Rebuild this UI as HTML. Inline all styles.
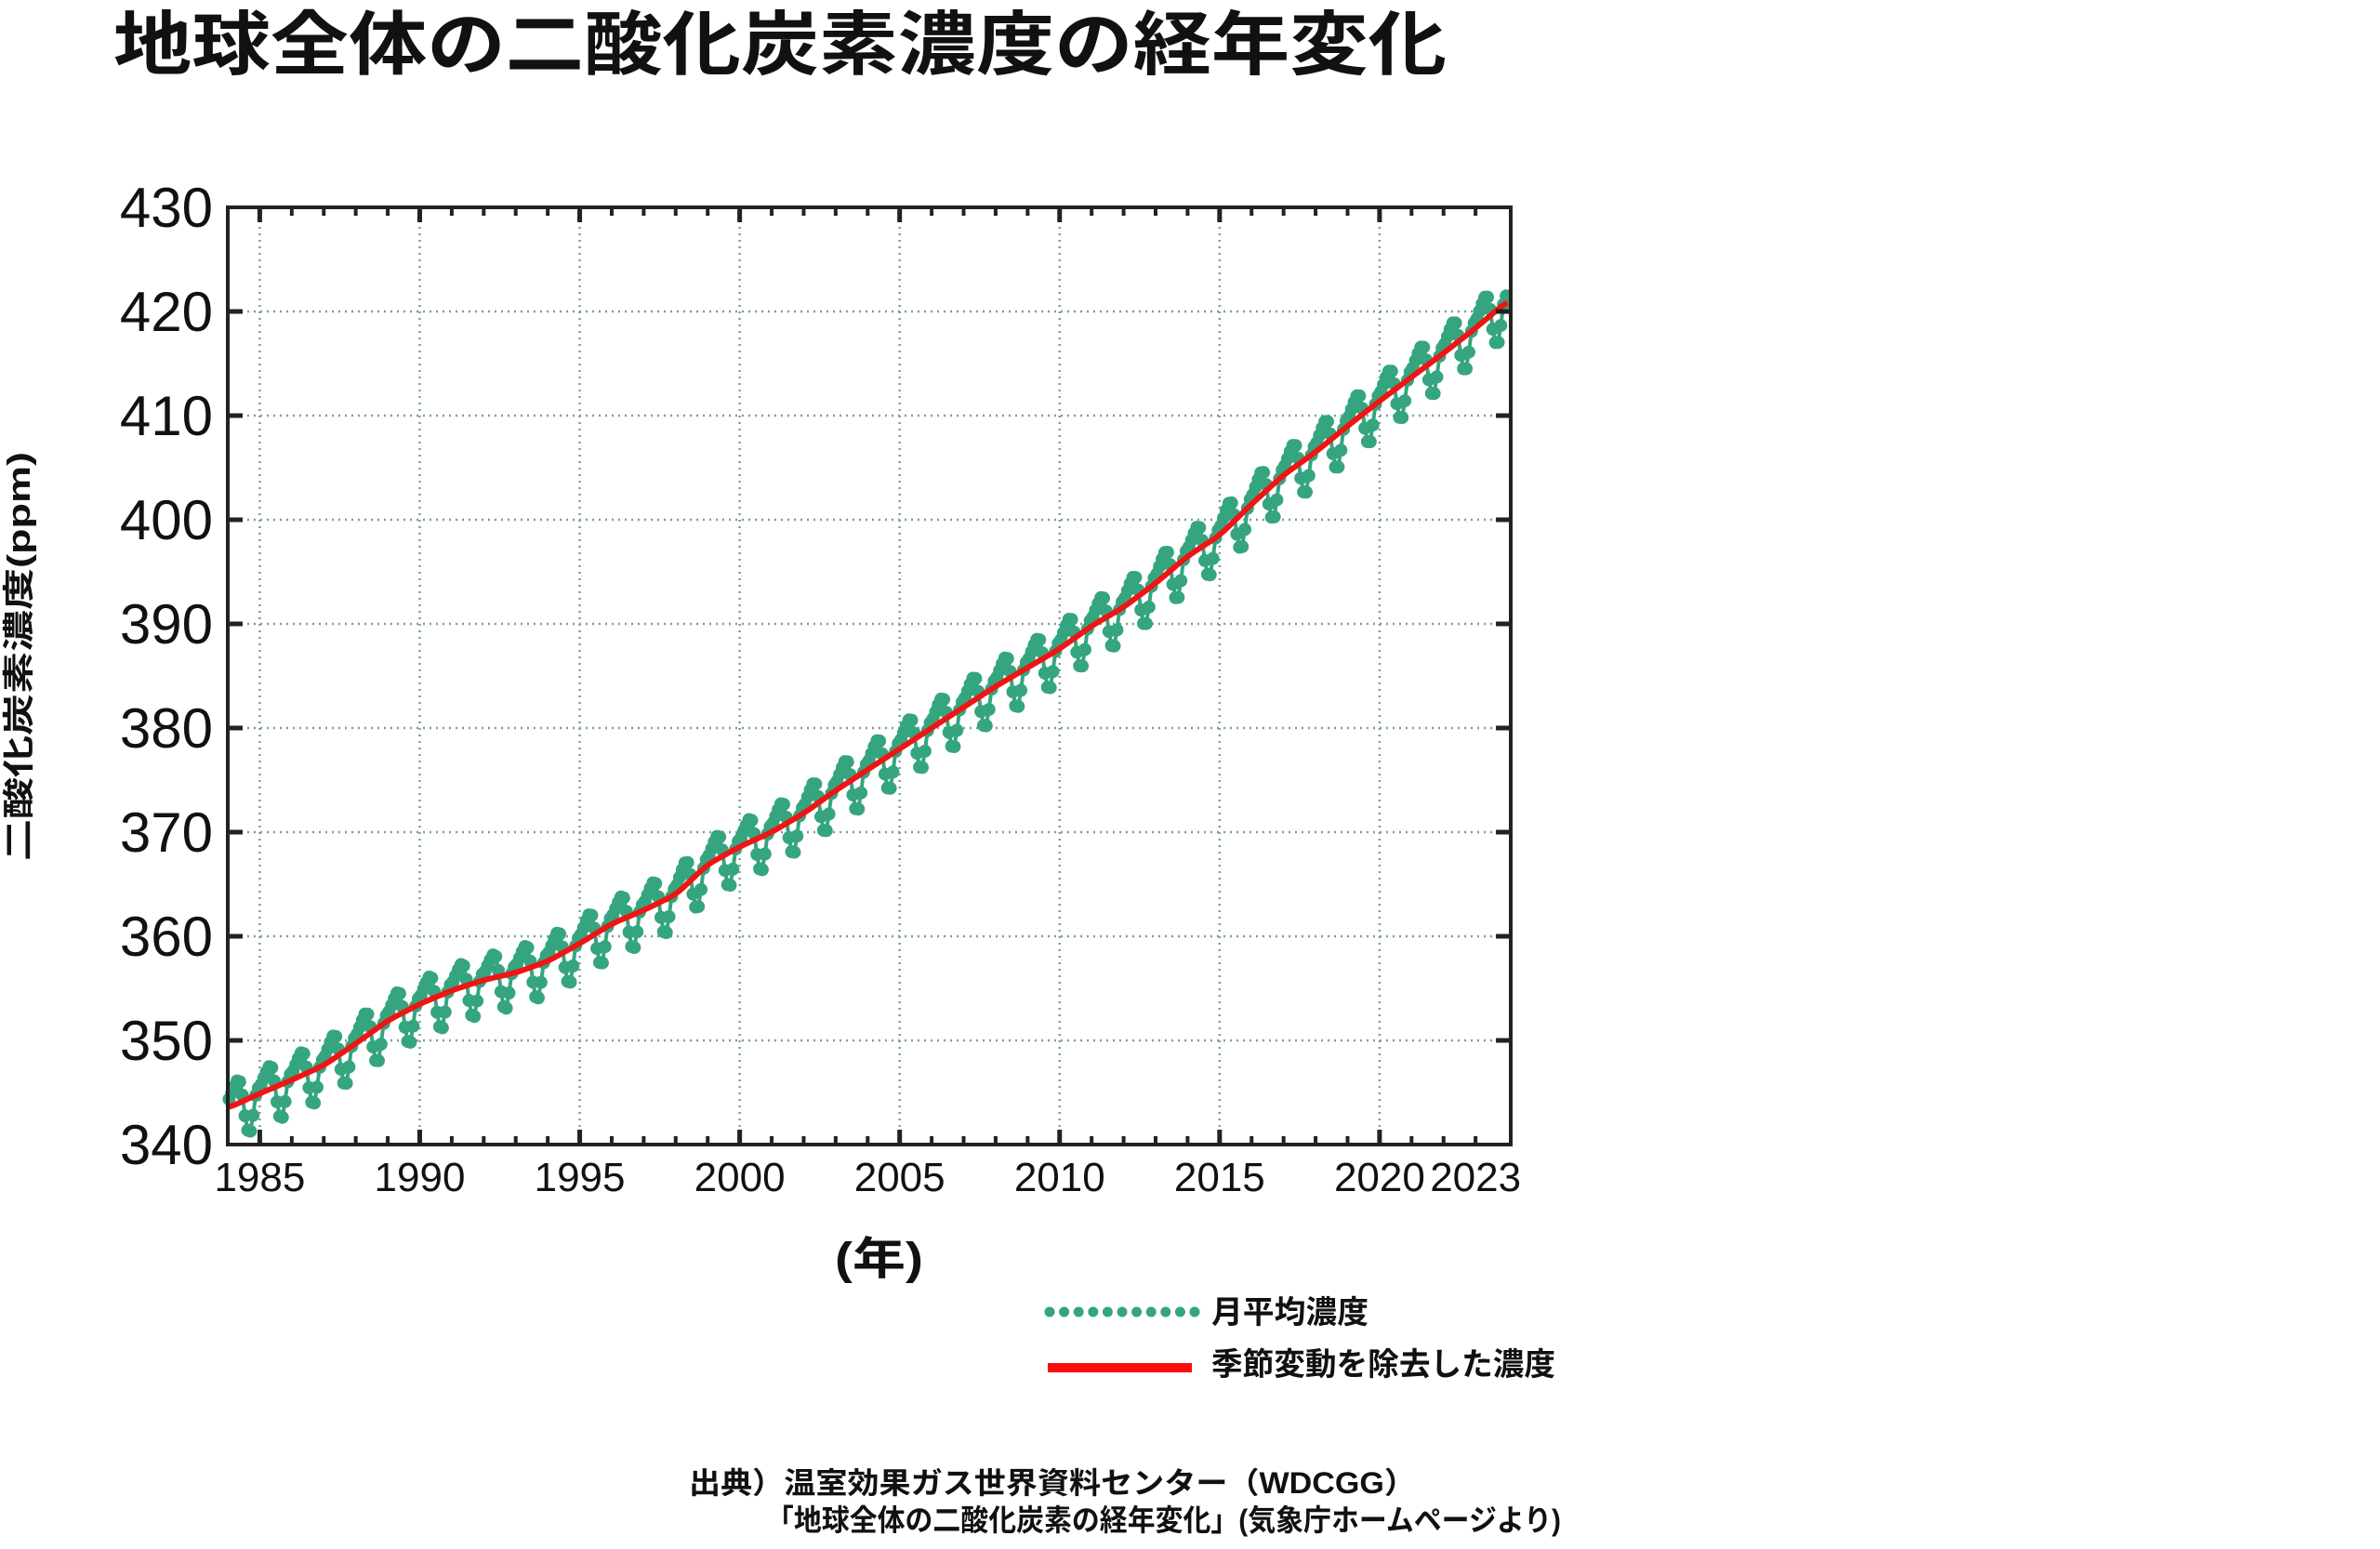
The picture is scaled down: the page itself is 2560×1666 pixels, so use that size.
<!DOCTYPE html>
<html lang="ja"><head><meta charset="utf-8"><title>地球全体の二酸化炭素濃度の経年変化</title>
<style>html,body{margin:0;padding:0;background:#fff;}svg{display:block;}
text{font-family:"Liberation Sans","Noto Sans CJK JP",sans-serif;fill:#111;}</style></head>
<body>
<svg id="chart" width="2560" height="1666" viewBox="0 0 2560 1666" xmlns="http://www.w3.org/2000/svg">
<text x="122" y="74" font-size="75" font-weight="bold" textLength="1434" lengthAdjust="spacingAndGlyphs">地球全体の二酸化炭素濃度の経年変化</text>
<text transform="translate(32,706) rotate(-90)" text-anchor="middle" font-size="34" font-weight="bold" textLength="440" lengthAdjust="spacingAndGlyphs">二酸化炭素濃度(ppm)</text>
<g id="grid"></g>
<g id="series"></g>
<g id="axes"></g>
<text x="898" y="1370" font-size="48" font-weight="bold" textLength="95" lengthAdjust="spacingAndGlyphs">(年)</text>
<g>
<g id="legdots"></g>
<text x="1303" y="1423" font-size="34" font-weight="bold" textLength="169" lengthAdjust="spacingAndGlyphs">月平均濃度</text>
<rect x="1127" y="1466" width="155" height="10" fill="#ff0a0a"/>
<text x="1303" y="1479" font-size="34" font-weight="bold" textLength="370" lengthAdjust="spacingAndGlyphs">季節変動を除去した濃度</text>
</g>
<text x="741" y="1606" font-size="32" font-weight="bold" textLength="782" lengthAdjust="spacingAndGlyphs">出典）温室効果ガス世界資料センター（WDCGG）</text>
<text x="824" y="1646" font-size="32" font-weight="bold" textLength="855" lengthAdjust="spacingAndGlyphs">「地球全体の二酸化炭素の経年変化」(気象庁ホームページより)</text>
</svg>
<script>
const trendYears = [1984,1985,1986,1987,1988,1989,1990,1991,1992,1993,1994,1995,1996,1997,1998,1999,2000,2001,2002,2003,2004,2005,2006,2007,2008,2009,2010,2011,2012,2013,2014,2015,2016,2017,2018,2019,2020,2021,2022,2023,2024];
const trendValues = [343.5,344.9,346.2,347.6,349.7,351.9,353.5,354.8,355.8,356.5,357.6,359.3,361.2,362.5,364.0,366.9,368.6,370.0,371.8,374.0,376.0,378.0,380.0,382.0,384.0,385.8,387.6,389.8,391.6,393.9,396.5,398.5,401.5,404.3,406.5,409.0,411.4,413.7,416.0,418.4,421.0];
const seasonalAnomaly = [0.8,1.3,1.8,2.2,2.0,0.6,-1.5,-3.0,-3.2,-1.8,0.0,0.6];
const yTicks = [340,350,360,370,380,390,400,410,420,430];
const xTickLabels = [1985,1990,1995,2000,2005,2010,2015,2020,2023];
const xGridYears = [1985,1990,1995,2000,2005,2010,2015,2020];

const NS='http://www.w3.org/2000/svg';
const L=245,R=1625,T=223,B=1231;
const X0=1984.0,X1=2024.1,Y0=340,Y1=430;
function xs(v){return L+(v-X0)/(X1-X0)*(R-L);}
function ys(v){return B-(v-Y0)/(Y1-Y0)*(B-T);}
function mk(tag,attrs,parent){const e=document.createElementNS(NS,tag);for(const k in attrs)e.setAttribute(k,attrs[k]);parent.appendChild(e);return e;}
function trendAt(t){
  for(let i=0;i<trendYears.length-1;i++){
    if(t<=trendYears[i+1]){const f=(t-trendYears[i])/(trendYears[i+1]-trendYears[i]);return trendValues[i]+f*(trendValues[i+1]-trendValues[i]);}
  }
  return trendValues[trendValues.length-1];
}
const grid=document.getElementById('grid'),axes=document.getElementById('axes'),series=document.getElementById('series');
// grid
yTicks.forEach(v=>{if(v===Y0||v===Y1)return;
  const g=mk('line',{x1:L,x2:R,y1:ys(v),y2:ys(v),stroke:'#7f9da3','stroke-width':2.5,'stroke-dasharray':'2 5'},grid);
  
  
});
xGridYears.forEach(v=>{
  const g=mk('line',{x1:xs(v),x2:xs(v),y1:T,y2:B,stroke:'#7f9da3','stroke-width':2.5,'stroke-dasharray':'2 5'},grid);
  
  
});
// monthly series
const pts=[];
for(let y=1984;y<=2023;y++){for(let m=0;m<12;m++){const t=y+m/12+0.04;pts.push([xs(t),ys(trendAt(t)+seasonalAnomaly[m])]);}}
const ml=mk('polyline',{points:pts.map(p=>p[0].toFixed(1)+','+p[1].toFixed(1)).join(' '),fill:'none',stroke:'#35a57f','stroke-width':4},series);


pts.forEach(p=>{
  const c=mk('circle',{cx:p[0].toFixed(1),cy:p[1].toFixed(1),r:7,fill:'#35a57f'},series);
  
  
});
// trend line
const tp=[];
for(let t=1984;t<=2024.001;t+=1/24){tp.push([xs(t),ys(trendAt(t))]);}
// smooth via moving average
const sm=tp.map((p,i)=>{let s=0,n=0;for(let k=-6;k<=6;k++){const q=tp[Math.min(tp.length-1,Math.max(0,i+k))];s+=q[1];n++;}return [p[0],s/n];});
const tl=mk('polyline',{points:sm.map(p=>p[0].toFixed(1)+','+p[1].toFixed(1)).join(' '),fill:'none',stroke:'#f01414','stroke-width':6,'stroke-linejoin':'round'},series);


// axes frame
const fr=mk('rect',{x:L,y:T,width:R-L,height:B-T,fill:'none',stroke:'#222','stroke-width':4},axes);


yTicks.forEach(v=>{
  const y=ys(v);
  if(v!==Y0&&v!==Y1){
    const a=mk('line',{x1:L,x2:L+16,y1:y,y2:y,stroke:'#222','stroke-width':5},axes);
    
    
    const b=mk('line',{x1:R-16,x2:R,y1:y,y2:y,stroke:'#222','stroke-width':5},axes);
    
    
  }
  const t=mk('text',{x:229,y:y+21,'font-size':60,'text-anchor':'end'},axes);
  t.textContent=v;
  
  
});
for(let yr=1985;yr<=2023;yr++){
  const major=(yr%5===0),len=major?16:9,x=xs(yr);
  const a=mk('line',{x1:x,x2:x,y1:B,y2:B-len,stroke:'#222','stroke-width':major?5:4},axes);
  
  
  const b=mk('line',{x1:x,x2:x,y1:T,y2:T+len,stroke:'#222','stroke-width':major?5:4},axes);
  
  
}
xTickLabels.forEach(v=>{
  const t=mk('text',{x:xs(v),y:1281,'font-size':44,'text-anchor':'middle'},axes);
  t.textContent=v;
  
  
});
// legend dots
const ld=document.getElementById('legdots');
for(let i=0;i<11;i++){
  const c=mk('circle',{cx:1129+i*15.6,cy:1411,r:5.5,fill:'#35a57f'},ld);
  
  
}
</script>
</body></html>
